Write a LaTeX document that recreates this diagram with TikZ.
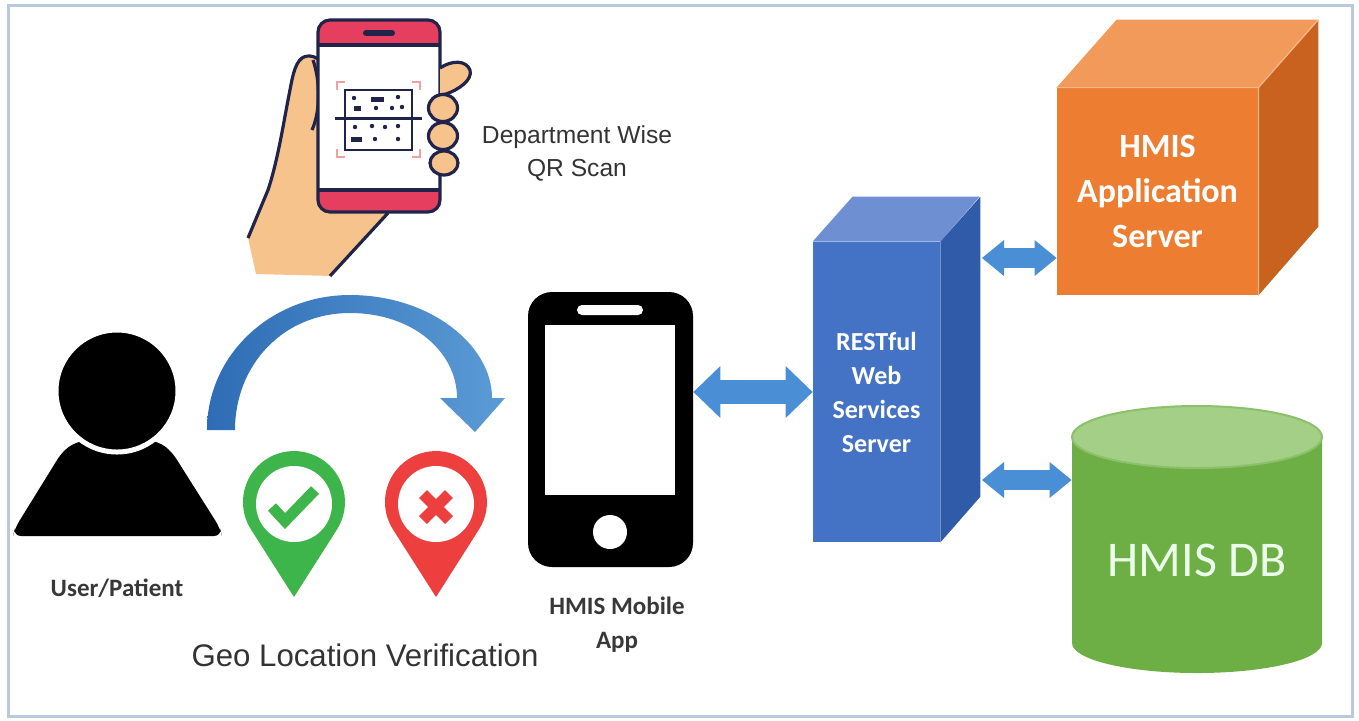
\documentclass[tikz,border=0pt]{standalone}
\usepackage{fontspec}
\setmainfont{Carlito}
\newfontfamily\arialfont{Liberation Sans}
\usetikzlibrary{arrows.meta,positioning,calc}

\definecolor{framecol}{HTML}{B7C9DD}
\definecolor{linkblue}{HTML}{4A8FD6}
\definecolor{arcdark}{HTML}{2E6CB5}
\definecolor{arclight}{HTML}{5B9BD5}
\definecolor{restfront}{HTML}{4472C4}
\definecolor{resttop}{HTML}{6E90D2}
\definecolor{restside}{HTML}{2F5BA8}
\definecolor{appfront}{HTML}{ED7D31}
\definecolor{apptop}{HTML}{F29A5A}
\definecolor{appside}{HTML}{C8621E}
\definecolor{dbbody}{HTML}{6DAE45}
\definecolor{dbtop}{HTML}{A3CF87}
\definecolor{dbedge}{HTML}{8CC06A}
\definecolor{okgreen}{HTML}{3DB54A}
\definecolor{badred}{HTML}{EE3F3F}
\definecolor{skin}{HTML}{F7C38C}
\definecolor{inkblue}{HTML}{20244A}
\definecolor{qrred}{HTML}{E63E5F}
\definecolor{qrcorner}{HTML}{F2A0A0}

\tikzset{
    bigarrow/.style={linkblue, line width=12pt,
        {Triangle[length=13.5pt,width=26pt,line width=0pt]}-{Triangle[length=13.5pt,width=26pt,line width=0pt]}},
    smallarrow/.style={linkblue, line width=10pt,
        {Triangle[length=11pt,width=18pt,line width=0pt]}-{Triangle[length=11pt,width=18pt,line width=0pt]}},
    tagtext/.style={font=\bfseries\fontsize{12.5}{17}\selectfont, text=black!78, align=center},
    plaintext/.style={font=\arialfont\fontsize{12.3}{16.5}\selectfont, text=black!80, align=center},
    boxtext/.style={font=\bfseries, text=white, align=center, inner sep=0pt},
    handline/.style={draw=inkblue, line width=1.6pt, line join=round},
}

\begin{document}
\begin{tikzpicture}[x=0.5pt, y=-0.5pt]
    \useasboundingbox (0,0) rectangle (1359,720);
    \draw[framecol, line width=1.5pt] (8,5) rectangle (1352,716);

    % user
    \fill[black, rounded corners=4pt] (13,536) -- (15,528) -- (62,452)
        .. controls (78,440) and (95,438) .. (117,438)
        .. controls (140,438) and (157,440) .. (172,452) -- (220,528) -- (222,536) -- cycle;
    \filldraw[fill=black, draw=white, line width=2.5pt] (117,391) circle[radius=61];
    \node[tagtext] (user) at (117,588) {User/Patient};

    % curved arrow user -> app
    \shade[left color=arcdark, right color=arclight]
        (207,430) .. controls (207,355) and (271,295) .. (350,295)
        .. controls (430,295) and (492,345) .. (492,398)
        -- (505,398) -- (475,432) -- (440,398) -- (457,398)
        .. controls (457,352) and (413,313) .. (350,313)
        .. controls (283,313) and (235,365) .. (235,430) -- cycle;

    % location pins
    \fill[okgreen] (294,597) -- (337,529.4) arc[start angle=32.47, end angle=-212.47, radius=51] -- cycle;
    \fill[white] (294,504) circle[radius=38];
    \draw[okgreen, line width=5.5pt] (272,507) -- (285,521) -- (315,490);
    \fill[badred] (436,597) -- (479,529.4) arc[start angle=32.47, end angle=-212.47, radius=51] -- cycle;
    \fill[white] (436,504) circle[radius=38];
    \draw[badred, line width=5.5pt] (423,494) -- (449,520) (423,520) -- (449,494);
    \node[plaintext, font=\arialfont\fontsize{15.6}{18}\selectfont] (geo) at (365,655) {Geo Location Verification};

    % hand holding the scanner phone
    \fill[skin] (322,64) .. controls (318,56) and (308,54) .. (302,58)
        .. controls (294,64) and (292,80) .. (289,95)
        .. controls (284,120) and (278,160) .. (268,190) -- (248,238)
        -- (256,274) -- (332,276) -- (390,212) -- cycle;
    \draw[handline] (322,64) .. controls (318,56) and (308,54) .. (302,58)
        .. controls (294,64) and (292,80) .. (289,95)
        .. controls (284,120) and (278,160) .. (268,190) -- (248,238);
    \draw[handline] (388,213) -- (330,276);
    \draw[handline] (313,60) .. controls (320,80) and (321,110) .. (312,130);
    \begin{scope}
        \clip[rounded corners=6pt] (318,20) rectangle (440,212);
        \fill[white] (318,20) rectangle (440,212);
        \fill[qrred] (318,20) rectangle (440,45);
        \fill[qrred] (318,190) rectangle (440,212);
    \end{scope}
    \draw[handline, rounded corners=6pt] (318,20) rectangle (440,212);
    \draw[handline] (318,45) -- (440,45) (318,190) -- (440,190);
    \draw[inkblue, line width=3pt, line cap=round] (366,33) -- (392,33);
    % qr code
    \draw[qrcorner, line width=1.2pt]
        (337,90) -- (337,82) -- (345,82) (412,82) -- (420,82) -- (420,90)
        (337,149) -- (337,157) -- (345,157) (412,157) -- (420,157) -- (420,149);
    \draw[inkblue, line width=1.2pt] (345,90) rectangle (412,150);
    \draw[inkblue, line width=1.5pt] (335,118) -- (422,118);
    \fill[inkblue] (354,98) circle[radius=2.2] (398,97) circle[radius=2.2]
        (376,108) circle[radius=2.2] (392,108) circle[radius=2.2] (402,107) circle[radius=2.2]
        (355,127) circle[radius=2.2] (372,126) circle[radius=2.2] (385,127) circle[radius=2.2] (398,126) circle[radius=2.2]
        (375,139) circle[radius=2.2] (398,139) circle[radius=2.2];
    \draw[inkblue, line width=2.5pt] (371,99) -- (384,99) (354,108) -- (361,108) (351,139) -- (362,139);
    % fingers
    \filldraw[fill=skin, handline] (440,68) .. controls (452,60) and (466,60) .. (470,70)
        .. controls (473,80) and (458,90) .. (446,94) -- (440,95);
    \filldraw[fill=skin, handline] (443,108) ellipse[x radius=14.5, y radius=13.5];
    \filldraw[fill=skin, handline] (443,136) ellipse[x radius=14.5, y radius=13.5];
    \filldraw[fill=skin, handline] (444,163) ellipse[x radius=14, y radius=12];
    \node[plaintext] (qr) at (577,153) {Department Wise\\QR Scan};

    % mobile app
    \node[fill=black, rounded corners=12pt, minimum width=82.5pt, minimum height=137.5pt, inner sep=0pt] (phone) at (610.5,429.5) {};
    \fill[white] (545,325) rectangle (675,495);
    \fill[white, rounded corners=2.5pt] (577,305) rectangle (643,315);
    \fill[white] (610,532) circle[radius=17];
    \node[tagtext] (applbl) at (617,625) {HMIS Mobile\\App};

    % restful server
    \node[boxtext, fill=restfront, minimum width=63.5pt, minimum height=150pt,
          font=\bfseries\fontsize{13}{17}\selectfont] (rest) at (876.5,392) {RESTful\\Web\\Services\\Server};
    \fill[resttop] (rest.north west) -- ++(40,-45) -- ++(127,0) -- (rest.north east) -- cycle;
    \fill[restside] (rest.north east) -- ++(40,-45) -- ++(0,300) -- (rest.south east) -- cycle;

    % application server
    \node[boxtext, fill=appfront, minimum width=100.5pt, minimum height=103.5pt,
          font=\bfseries\fontsize{17}{22.5}\selectfont] (appsrv) at (1157.5,191.5) {HMIS\\Application\\Server};
    \fill[apptop] (appsrv.north west) -- ++(60,-68) -- ++(201,0) -- (appsrv.north east) -- cycle;
    \fill[appside] (appsrv.north east) -- ++(60,-68) -- ++(0,207) -- (appsrv.south east) -- cycle;
    \draw[apptop!70!white, line width=0.6pt] (appsrv.north west) -- (appsrv.north east) -- (appsrv.south east)
        (appsrv.north east) -- ++(60,-68);

    % database
    \fill[dbbody] (1072,437) -- (1072,643) arc[start angle=180, end angle=0, x radius=125, y radius=30] -- (1322,437) -- cycle;
    \filldraw[fill=dbtop, draw=dbedge, line width=1pt] (1197,437) ellipse[x radius=125, y radius=31];
    \node[boxtext, minimum width=125pt, font=\fontsize{25}{30}\selectfont, text=white!92!green] (db) at (1197,560) {HMIS DB};

    % links
    \coordinate (restA) at (982,258);
    \coordinate (restB) at (982,480);
    \draw[bigarrow] (phone.east |- rest.west) -- (rest.west);
    \draw[smallarrow] (restA) -- (appsrv.west |- restA);
    \draw[smallarrow] (restB) -- (db.west |- restB);
\end{tikzpicture}
\end{document}
